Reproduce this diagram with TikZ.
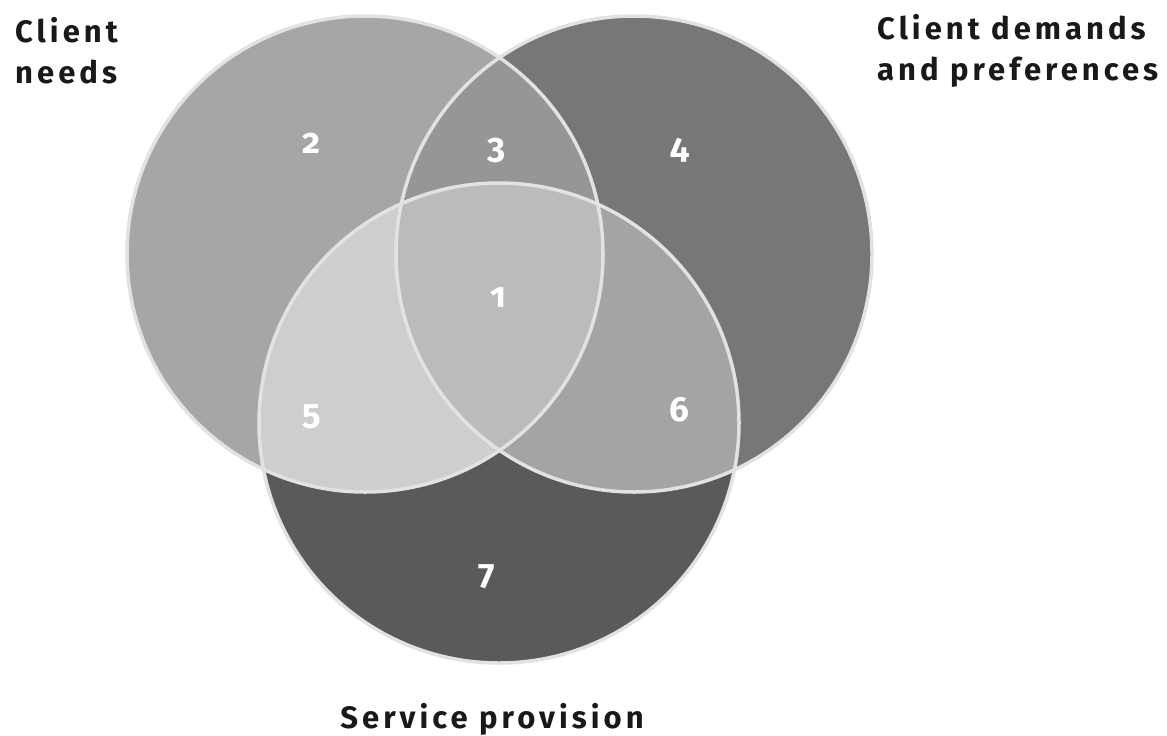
\documentclass[tikz,border=0pt]{standalone}
\usepackage{fontspec}
\setmainfont{Fira Sans}
\newfontfamily\labfont[LetterSpace=13]{Fira Sans}
\newfontfamily\numfont[Numbers=OldStyle]{Fira Sans}
\definecolor{rone}{RGB}{187,187,187}
\definecolor{rtwo}{RGB}{166,166,166}
\definecolor{rthree}{RGB}{150,150,150}
\definecolor{rfour}{RGB}{119,119,119}
\definecolor{rfive}{RGB}{206,206,206}
\definecolor{rsix}{RGB}{164,164,164}
\definecolor{rseven}{RGB}{90,90,90}
\definecolor{rim}{RGB}{226,226,226}
\tikzset{
  ring/.style={draw=rim, line width=3.5pt},
  num/.style={text=white, inner sep=0pt, font=\numfont\bfseries\fontsize{35}{35}\selectfont},
  lab/.style={inner sep=0pt, text=black!90, font=\labfont\bfseries\fontsize{31}{41}\selectfont}
}
\begin{document}
\begin{tikzpicture}[x=1pt,y=-1pt]
\useasboundingbox (0,0) rectangle (1167,736);
\fill[white] (0,0) rectangle (1167,736);
\coordinate (A) at (365,254);
\coordinate (B) at (634,254);
\coordinate (C) at (499,423);
\def\ra{238pt}
\def\rb{238pt}
\def\rc{240pt}
% single regions
\fill[rtwo] (A) circle[radius=\ra];
\fill[rfour] (B) circle[radius=\rb];
\fill[rseven] (C) circle[radius=\rc];
% pairwise
\begin{scope}
  \clip (A) circle[radius=\ra];
  \fill[rthree] (B) circle[radius=\rb];
  \fill[rfive] (C) circle[radius=\rc];
\end{scope}
\begin{scope}
  \clip (B) circle[radius=\rb];
  \fill[rsix] (C) circle[radius=\rc];
\end{scope}
\begin{scope}
  \clip (A) circle[radius=\ra];
  \clip (B) circle[radius=\rb];
  \fill[rone] (C) circle[radius=\rc];
\end{scope}
% outlines
\draw[ring] (A) circle[radius=\ra];
\draw[ring] (B) circle[radius=\rb];
\draw[ring] (C) circle[radius=\rc];
% numbers
\node[num] (n1) at (498,298) {1};
\node[num] (n2) at (312,143) {2};
\node[num] (n3) at (497,150) {3};
\node[num] (n4) at (680,150) {4};
\node[num] (n5) at (312,417) {5};
\node[num] (n6) at (679,410) {6};
\node[num] (n7) at (487,577) {7};
% labels
\node[lab, anchor=north west, align=left] (la) at (15,17) {Client\\needs};
\node[lab, anchor=north west, align=left] (lb) at (877,14) {Client demands\\and preferences};
\node[lab, anchor=base] (lc) at (492,728) {Service provision};
\end{tikzpicture}
\end{document}
